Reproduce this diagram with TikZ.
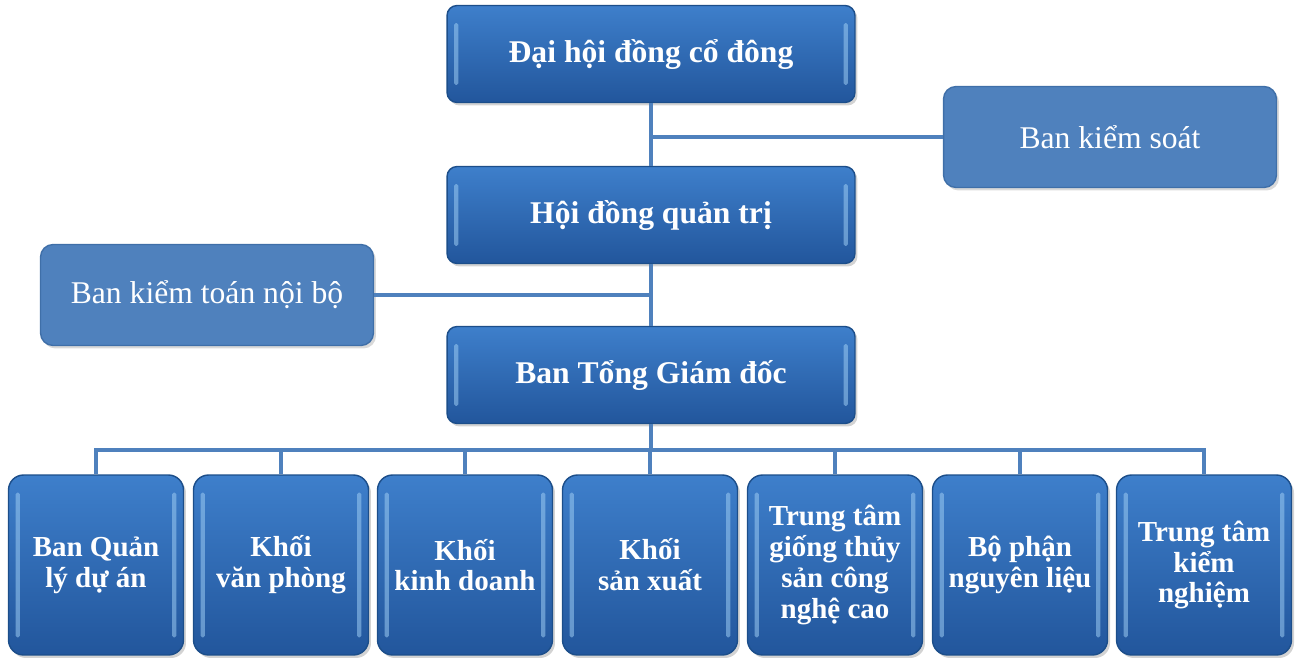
\documentclass[tikz,border=0pt]{standalone}
\usepackage{fontspec}
\setmainfont{Liberation Serif}
\usepackage{tikz}
\usetikzlibrary{positioning,shadows}

\definecolor{boxtop}{HTML}{3E7FCB}
\definecolor{boxbot}{HTML}{22569C}
\definecolor{boxedge}{HTML}{1C4E8A}
\definecolor{sidefill}{HTML}{4F81BD}
\definecolor{sideedge}{HTML}{3F6FA8}
\definecolor{linkcol}{HTML}{4F81BD}
\definecolor{gloss}{HTML}{9CCBF2}

\begin{document}
\begin{tikzpicture}[x=0.02cm, y=-0.02cm,
    mainbox/.style={draw=boxedge, line width=0.8pt, rounded corners=0.2cm,
        top color=boxtop, bottom color=boxbot, text=white,
        font=\fontsize{18}{20}\selectfont\bfseries, align=center,
        drop shadow={shadow xshift=0.05cm, shadow yshift=-0.06cm, opacity=0.35},
        path picture={
            \fill[gloss, opacity=0.55, rounded corners=1pt]
                ([xshift=4pt, yshift=-10pt]path picture bounding box.north west)
                rectangle ([xshift=6.5pt, yshift=10pt]path picture bounding box.south west);
            \fill[gloss, opacity=0.55, rounded corners=1pt]
                ([xshift=-4pt, yshift=-10pt]path picture bounding box.north east)
                rectangle ([xshift=-6.5pt, yshift=10pt]path picture bounding box.south east);
        }},
    sidebox/.style={draw=sideedge, line width=0.8pt, rounded corners=0.25cm,
        fill=sidefill, text=white, font=\fontsize{18}{20}\selectfont,
        minimum width=6.66cm, minimum height=2.02cm,
        drop shadow={shadow xshift=0.05cm, shadow yshift=-0.06cm, opacity=0.3}},
    unitbox/.style={mainbox, rounded corners=0.3cm, minimum width=3.5cm,
        minimum height=3.6cm, inner sep=1pt,
        font=\fontsize{16.5}{17.5}\selectfont\bfseries},
    link/.style={draw=linkcol, line width=2.2pt}]

    \useasboundingbox (0,0) rectangle (1297,658);

    % upper levels
    \node (dhdcd) [mainbox, minimum width=8.16cm, minimum height=1.94cm] at (651,54) {Đại hội đồng cổ đông};
    \node (hdqt) [mainbox, minimum width=8.16cm, minimum height=1.94cm] at (651,215) {Hội đồng quản trị};
    \node (btgd) [mainbox, minimum width=8.16cm, minimum height=1.94cm] at (651,375) {Ban Tổng Giám đốc};

    \node (bks) [sidebox] at (1110,137) {Ban kiểm soát};
    \node (bktnb) [sidebox] at (207,295) {Ban kiểm toán nội bộ};

    % units
    \node (qlda) [unitbox] at (96,565) {Ban Quản\\lý dự án};
    \node (vp) [unitbox] at (281,565) {Khối\\văn phòng};
    \node (kd) [unitbox] at (465,565) {Khối\\kinh doanh};
    \node (sx) [unitbox] at (650,565) {Khối\\sản xuất};
    \node (ttg) [unitbox] at (835,565) {Trung tâm\\giống thủy\\sản công\\nghệ cao};
    \node (bpnl) [unitbox] at (1020,565) {Bộ phận\\nguyên liệu};
    \node (ttkn) [unitbox] at (1204,565) {Trung tâm\\kiểm\\nghiệm};

    \coordinate (bus) at (651,450);

    \begin{scope}[on background layer/.try]
    \draw[link] (dhdcd.south) -- (hdqt.north);
    \draw[link] (bks.west) -- (bks.west -| dhdcd.south);
    \draw[link] (hdqt.south) -- (btgd.north);
    \draw[link] (bktnb.east) -- (bktnb.east -| hdqt.south);
    \draw[link] (btgd.south) -- (bus);
    \draw[link] (qlda.north) -- (qlda.north |- bus) -- (ttkn.north |- bus) -- (ttkn.north);
    \draw[link] (vp.north) -- (vp.north |- bus);
    \draw[link] (kd.north) -- (kd.north |- bus);
    \draw[link] (sx.north) -- (sx.north |- bus);
    \draw[link] (ttg.north) -- (ttg.north |- bus);
    \draw[link] (bpnl.north) -- (bpnl.north |- bus);
    \end{scope}
\end{tikzpicture}
\end{document}
